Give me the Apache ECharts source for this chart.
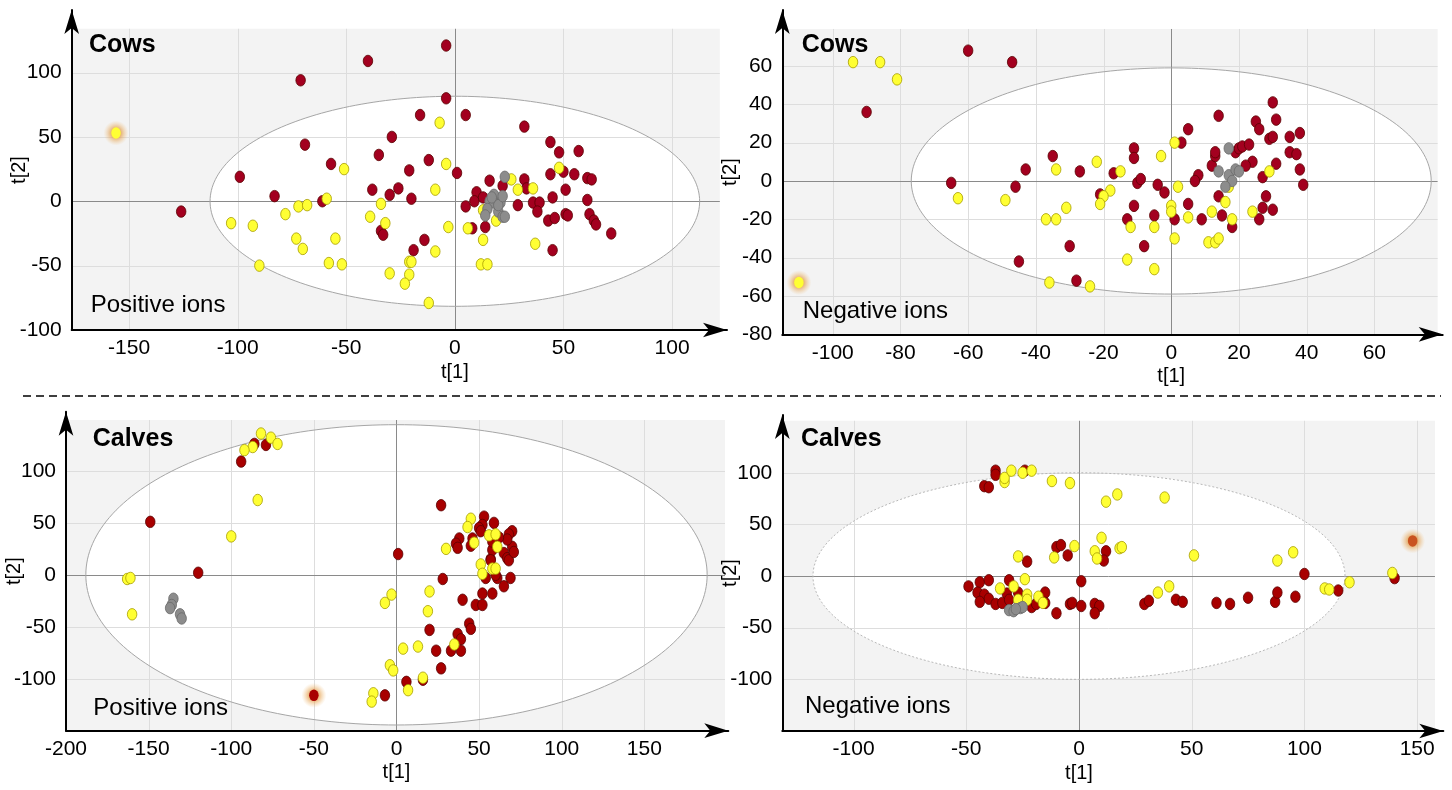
<!DOCTYPE html>
<html>
<head>
<meta charset="utf-8">
<title>Score plots - cows and calves</title>
<script src="https://cdn.jsdelivr.net/npm/echarts@6/dist/echarts.min.js"></script>
<style>
  html, body { margin: 0; padding: 0; background: #fff; }
  #chart { width: 1452px; height: 790px; }
</style>
</head>
<body>
<div id="chart"></div>
<script>
// ==================== data (t[1], t[2]) ====================

// Cows - positive ions
const cowsPosRed = [[-40,109],[-71,94],[-126,-8],[-69,44],[-57,29],[-99,19],[-83,4],[-61,0],[-29,50],[-35,36],[-38,9],[-30,5],[-26,10],[-34,-23],[-33,-26],
  [-4,121],[-4,80],[-16,67],[5,67],[32,58],[44,46],[48,38],[57,39],[-12,32],[-21,24],[1,22],[50,23],[55,21],[61,18],[63,17],[44,21],[32,17],[16,16],[22,12],[33,10],
  [-20,2],[10,7],[9,0],[13,3],[5,-4],[45,3],[51,9],[61,1],[29,-3],[36,-1],[39,-1],[38,-8],[43,-15],[46,-13],[51,-10],[52,-11],[62,-10],[64,-15],[65,-18],[72,-25],
  [45,-38],[14,-20],[8,-21],[-14,-30],[-19,-38]];
const cowsPosYellow = [[-59,2],[-72,-4],[-68,-3],[-78,-10],[-103,-17],[-93,-19],[-73,-29],[-70,-37],[-55,-29],[-90,-50],[-58,-48],[-52,-49],[-30,-56],[-51,25],
  [-34,-2],[-39,-12],[-32,-17],[-7,61],[-4,29],[48,26],[26,17],[29,9],[36,10],[-9,9],[6,-21],[-3,-20],[13,-30],[37,-33],[-9,-39],[-21,-47],[-20,-47],[-21,-57],
  [-23,-64],[-12,-79],[12,-49],[15,-49],[19,-15],[13,-7]];
const cowsPosGray = [[23,19],[18,5],[16,0],[21,-1],[18,-1],[15,-6],[20,-8],[14,-11],[22,-12],[23,-12],[20,-3],[17,3],[22,4]];
const cowsPosMark = [[-156,53]];

// Cows - negative ions
const cowsNegRed = [[-90,36],[-60,68],[-47,62],[-65,-1],[-46,-3],[-43,6],[-35,13],[-27,5],[-30,-34],[-45,-42],[-28,-52],
  [-17,4],[-11,17],[-11,12],[3,20],[5,27],[14,34],[-10,-1],[-9,1],[-4,-2],[-2,-6],[-21,-7],[-11,-13],[-13,-20],[-5,-18],[-8,-34],[1,-20],[5,-12],[9,-20],
  [15,-18],[8,3],[7,0],[12,8],[13,13],[13,15],[14,-8],[18,-24],[19,15],[20,17],[21,18],[23,19],[24,10],[22,8],[25,31],[26,27],[30,41],[31,32],[29,22],[30,23],
  [35,23],[38,25],[35,15],[37,14],[31,9],[38,6],[39,-2],[27,2],[28,-8],[27,-14],[30,-15],[26,-20]];
const cowsNegYellow = [[-94,62],[-86,62],[-81,53],[-63,-9],[-49,-10],[-34,6],[-31,-14],[-37,-20],[-34,-20],[-36,-53],[-24,-55],
  [-22,10],[-15,5],[-3,13],[1,20],[2,-3],[-18,-5],[-20,-8],[-21,-12],[-12,-24],[-5,-24],[-13,-41],[-5,-46],[0,-13],[0,-16],[1,-30],[5,-19],[12,-16],[11,-32],
  [13,-32],[14,-30],[16,-11],[18,-20],[29,5],[24,-16],[17,-3]];
const cowsNegGray = [[17,17],[14,5],[17,3],[19,6],[20,5],[18,0],[16,-3]];
const cowsNegMark = [[-110,-53]];

// Calves - positive ions
const calvesPosRed = [[-79,125],[-86,126],[-94,109],[-149,51],[-120,2],[-7,-116],[1,20],[27,67],[28,-4],[20,-53],[24,-73],[27,-90],[6,-103],[16,-101],[33,-73],
  [37,-57],[39,-62],[39,-73],[44,-47],[45,-52],[40,-24],[48,-29],[52,-29],[52,-18],[58,-18],[65,-11],[69,-3],[54,-3],[61,-3],[60,0],[57,15],[58,24],[65,21],
  [67,16],[68,14],[70,27],[71,22],[70,42],[68,39],[67,34],[62,36],[59,50],[53,56],[52,48],[50,45],[51,42],[46,35],[45,28],[38,35],[36,30],[37,26],[58,32],[57,14]];
const calvesPosYellow = [[-82,136],[-76,132],[-72,126],[-87,123],[-92,120],[-84,72],[-100,37],[-163,-4],[-161,-3],[-160,-38],[-14,-114],[-15,-122],[-7,-27],
  [-3,-19],[-4,-87],[-2,-92],[30,25],[20,-16],[19,-35],[4,-71],[13,-69],[7,-111],[16,-99],[35,-67],[51,10],[52,1],[58,6],[60,6],[61,27],[56,38],[60,39],[47,31],
  [45,54],[43,46]];
const calvesPosGray = [[-135,-23],[-136,-29],[-137,-32],[-131,-38],[-130,-42]];
const calvesPosMark = [[-50,-116]];

// Calves - negative ions
const calvesNegRed = [[-37,102],[-37,98],[-42,87],[-40,86],[-24,102],[-10,28],[-8,30],[-5,20],[-23,14],[1,-5],[-49,-10],[-44,-6],[-40,-4],[-45,-16],[-42,-18],
  [-40,-22],[-44,-25],[-37,-27],[-34,-26],[-31,-4],[-32,-17],[-31,-23],[-27,-16],[-21,-30],[-19,-27],[-15,-16],[-15,-26],[-10,-36],[-4,-27],[-3,-26],[1,-29],
  [12,24],[11,15],[7,-27],[9,-29],[7,-36],[29,-27],[31,-24],[43,-23],[46,-25],[61,-26],[67,-27],[75,-21],[87,-25],[88,-16],[96,-20],[100,2],[115,-14],[140,-2]];
const calvesNegYellow = [[-33,91],[-33,95],[-30,102],[-25,100],[-21,102],[-12,92],[-4,90],[-2,29],[-11,18],[-27,19],[-24,-3],[-35,-12],[-29,-10],[-27,-23],
  [-23,-18],[-23,-23],[-18,-20],[-16,-26],[12,72],[17,79],[38,76],[10,37],[7,24],[8,17],[18,27],[19,28],[51,20],[88,15],[95,23],[35,-16],[40,-10],[109,-12],
  [111,-13],[120,-6],[139,3]];
const calvesNegGray = [[-31,-33],[-29,-34],[-26,-31],[-25,-30],[-28,-32]];
const calvesNegMark = [[148,34]];

// tick labels
const cowsPosXTicks = [-150, -100, -50, 0, 50, 100];
const cowsPosYTicks = [-100, -50, 0, 50, 100];
const cowsNegXTicks = [-100, -80, -60, -40, -20, 0, 20, 40, 60];
const cowsNegYTicks = [-80, -60, -40, -20, 0, 20, 40, 60];
const calvesPosXTicks = [-200, -150, -100, -50, 0, 50, 100, 150];
const calvesPosYTicks = [-100, -50, 0, 50, 100];
const calvesNegXTicks = [-100, -50, 0, 50, 100, 150];
const calvesNegYTicks = [-100, -50, 0, 50, 100];

// Hotelling ellipse semi-axes (t[1], t[2])
const cowsPosEllipse = [112.7, 81.6];
const cowsNegEllipse = [76.8, 59];
const calvesPosEllipse = [188, 144.5];
const calvesNegEllipse = [118, 100];

// ==================== config ====================

const FONT = '"Liberation Sans", Arial, sans-serif';

const COLORS = {
    COW_RED: '#a3001f',
    CALF_RED: '#a80000',
    YELLOW: '#ffff33',
    YELLOW_EDGE: '#a89e00',
    GRAY: '#8c8c8c',
    GRAY_EDGE: '#6a6a6a',
    PANEL_BG: '#f3f3f3',
    GRID: '#dddddd',
    ZERO: '#8a8a8a'
};

// panel layout: grid box in px, axis extent (arrow tip), shaded area extent
const PANELS = [
    { grid: { left: 71.7, top: 10, width: 655.3, height: 320 }, xRange: [-176.4, 125.3], yRange: [-100, 148.6],
      bgX: [-176.4, 122], bgY: [-100, 134], xTicks: cowsPosXTicks, yTicks: cowsPosYTicks, ellipse: cowsPosEllipse,
      red: cowsPosRed, yellow: cowsPosYellow, gray: cowsPosGray, mark: cowsPosMark, redColor: COLORS.COW_RED,
      markColor: COLORS.YELLOW, dotted: false },
    { grid: { left: 782.3, top: 10, width: 660.4, height: 324.3 }, xRange: [-114.9, 80.2], yRange: [-80, 89.2],
      bgX: [-114.9, 78.7], bgY: [-80, 79.3], xTicks: cowsNegXTicks, yTicks: cowsNegYTicks, ellipse: cowsNegEllipse,
      red: cowsNegRed, yellow: cowsNegYellow, gray: cowsNegGray, mark: cowsNegMark, redColor: COLORS.COW_RED,
      markColor: COLORS.YELLOW, dotted: false },
    { grid: { left: 66, top: 411.7, width: 662.3, height: 319 }, xRange: [-200, 200.8], yRange: [-150, 157],
      bgX: [-200, 198.8], bgY: [-150, 149], xTicks: calvesPosXTicks, yTicks: calvesPosYTicks, ellipse: calvesPosEllipse,
      red: calvesPosRed, yellow: calvesPosYellow, gray: calvesPosGray, mark: calvesPosMark, redColor: COLORS.CALF_RED,
      markColor: COLORS.CALF_RED, dotted: false },
    { grid: { left: 782.3, top: 415, width: 661, height: 316 }, xRange: [-131.6, 161.6], yRange: [-150, 155.9],
      bgX: [-131.6, 157.9], bgY: [-150, 150.3], xTicks: calvesNegXTicks, yTicks: calvesNegYTicks, ellipse: calvesNegEllipse,
      red: calvesNegRed, yellow: calvesNegYellow, gray: calvesNegGray, mark: calvesNegMark, redColor: COLORS.CALF_RED,
      markColor: '#c9521f', dotted: true }
];

// ==================== builders ====================

function crisp(v) {
    return Math.round(v) + 0.5;
}

/**
 * background: shaded box, white ellipse, grid lines, zero lines, t[1] label
 */
function backgroundSeries(p, i) {
    return {
        type: 'custom',
        xAxisIndex: i,
        yAxisIndex: i,
        silent: true,
        clip: false,
        z: 1,
        data: [[0, 0]],
        renderItem: function (params, api) {
            const children = [];
            const tl = api.coord([p.bgX[0], p.bgY[1]]);
            const br = api.coord([p.bgX[1], p.bgY[0]]);
            children.push({ type: 'rect', shape: { x: tl[0], y: tl[1], width: br[0] - tl[0], height: br[1] - tl[1] },
                style: { fill: COLORS.PANEL_BG } });

            const pts = [];
            for (let k = 0; k <= 240; k++) {
                const a = k / 240 * Math.PI * 2;
                pts.push(api.coord([p.ellipse[0] * Math.cos(a), p.ellipse[1] * Math.sin(a)]));
            }
            children.push({ type: 'polygon', shape: { points: pts }, style: { fill: '#fff' } });

            p.xTicks.forEach(v => {
                if (v === 0 || v <= p.xRange[0]) return;
                const x = crisp(api.coord([v, 0])[0]);
                children.push({ type: 'line', shape: { x1: x, y1: tl[1], x2: x, y2: br[1] },
                    style: { stroke: COLORS.GRID, lineWidth: 1 } });
            });
            p.yTicks.forEach(v => {
                if (v === 0 || v <= p.yRange[0]) return;
                const y = crisp(api.coord([0, v])[1]);
                children.push({ type: 'line', shape: { x1: tl[0], y1: y, x2: br[0], y2: y },
                    style: { stroke: COLORS.GRID, lineWidth: 1 } });
            });

            const o = api.coord([0, 0]);
            children.push({ type: 'line', shape: { x1: tl[0], y1: crisp(o[1]), x2: br[0], y2: crisp(o[1]) },
                style: { stroke: COLORS.ZERO, lineWidth: 1 } });
            children.push({ type: 'line', shape: { x1: crisp(o[0]), y1: tl[1], x2: crisp(o[0]), y2: br[1] },
                style: { stroke: COLORS.ZERO, lineWidth: 1 } });

            children.push({ type: 'polygon', shape: { points: pts },
                style: { fill: 'none', stroke: p.dotted ? '#b8b8b8' : '#a6a6a6', lineWidth: 1,
                    lineDash: p.dotted ? [2, 2] : null } });

            children.push({ type: 'text', x: o[0], y: br[1] + 42,
                style: { text: 't[1]', font: '20px ' + FONT, fill: '#000',
                    align: 'center', verticalAlign: 'middle', textAlign: 'center', textVerticalAlign: 'middle' } });

            return { type: 'group', children: children };
        }
    };
}

function dotSeries(data, i, fill, edge, z) {
    return {
        type: 'scatter',
        xAxisIndex: i,
        yAxisIndex: i,
        data: data,
        symbol: 'circle',
        symbolSize: [9.5, 11.5],
        silent: true,
        z: z,
        itemStyle: { color: fill, borderColor: edge, borderWidth: 0.8, opacity: 1 }
    };
}

// soft orange halo behind the highlighted sample
function haloSeries(data, i) {
    return {
        type: 'scatter',
        xAxisIndex: i,
        yAxisIndex: i,
        data: data,
        symbol: 'circle',
        symbolSize: 25,
        silent: true,
        z: 6,
        itemStyle: {
            opacity: 1,
            color: { type: 'radial', x: 0.5, y: 0.5, r: 0.5, colorStops: [
                { offset: 0, color: 'rgba(214,110,20,0.95)' },
                { offset: 0.45, color: 'rgba(226,150,60,0.6)' },
                { offset: 1, color: 'rgba(240,190,120,0)' }
            ] }
        }
    };
}

function axisPair(p, i) {
    const line = {
        onZero: false,
        lineStyle: { color: '#000', width: 2 },
        symbol: ['none', 'arrow'],
        symbolSize: [11, 24],
        symbolOffset: [0, 0]
    };
    const label = { color: '#000', fontSize: 21, fontFamily: FONT };
    const x = {
        type: 'value', gridIndex: i, min: p.xRange[0], max: p.xRange[1], z: 10,
        axisLine: line, axisTick: { show: false }, splitLine: { show: false },
        axisLabel: Object.assign({ margin: 8, customValues: p.xTicks }, label)
    };
    const y = {
        type: 'value', gridIndex: i, min: p.yRange[0], max: p.yRange[1], z: 10,
        axisLine: line, axisTick: { show: false }, splitLine: { show: false },
        axisLabel: Object.assign({ margin: 10, customValues: p.yTicks }, label),
        name: 't[2]', nameLocation: 'middle', nameGap: 42, nameMoveOverlap: false,
        nameTextStyle: { color: '#000', fontSize: 20, fontFamily: FONT }
    };
    return [x, y];
}

function panelText(text, x, y, bold) {
    return {
        type: 'text', x: x, y: y, z: 100, silent: true,
        style: { text: text, font: (bold ? 'bold 25px ' : '24px ') + FONT, fill: '#000',
            align: 'left', verticalAlign: 'middle', textAlign: 'left', textVerticalAlign: 'middle' }
    };
}

// ==================== chart ====================

const chart = echarts.init(document.getElementById('chart'), null, { renderer: 'canvas' });

const xAxes = [], yAxes = [], series = [];
PANELS.forEach((p, i) => {
    const [x, y] = axisPair(p, i);
    xAxes.push(x);
    yAxes.push(y);
    series.push(backgroundSeries(p, i));
    series.push(dotSeries(p.red, i, p.redColor, '#5a0000', 3));
    series.push(dotSeries(p.yellow, i, COLORS.YELLOW, COLORS.YELLOW_EDGE, 4));
    series.push(dotSeries(p.gray, i, COLORS.GRAY, COLORS.GRAY_EDGE, 5));
    series.push(haloSeries(p.mark, i));
    series.push(dotSeries(p.mark, i, p.markColor, 'rgba(0,0,0,0)', 7));
});

chart.setOption({
    animation: false,
    backgroundColor: '#fff',
    textStyle: { fontFamily: FONT },
    grid: PANELS.map(p => Object.assign({ outerBoundsMode: 'none', containLabel: false }, p.grid)),
    xAxis: xAxes,
    yAxis: yAxes,
    series: series,
    graphic: [
        panelText('Cows', 89, 45.5, true),
        panelText('Cows', 801.7, 45, true),
        panelText('Calves', 92.7, 439, true),
        panelText('Calves', 801, 439, true),
        panelText('Positive ions', 90.7, 305.7, false),
        panelText('Negative ions', 802.7, 311.3, false),
        panelText('Positive ions', 93.3, 708.3, false),
        panelText('Negative ions', 805, 706, false),
        { type: 'line', silent: true, z: 100, shape: { x1: 23, y1: 396, x2: 1441, y2: 396 },
          style: { stroke: '#000', lineWidth: 1.6, lineDash: [8, 5] } }
    ]
});
</script>
</body>
</html>
